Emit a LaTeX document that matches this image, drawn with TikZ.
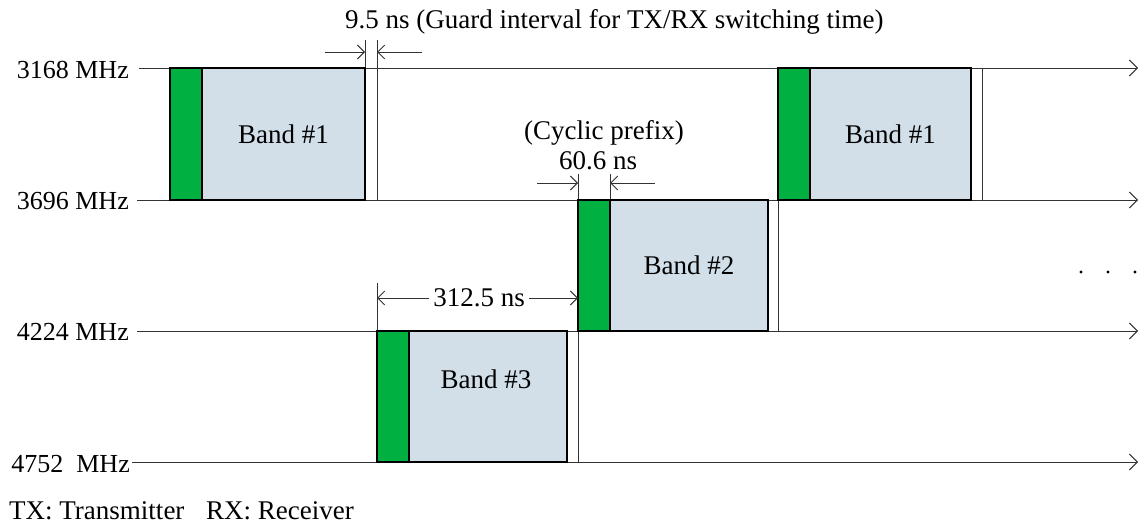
\documentclass[tikz,border=0pt]{standalone}
\usepackage{fontspec}
\setmainfont{Liberation Serif}
\usetikzlibrary{arrows.meta}
\definecolor{cpgreen}{RGB}{0,176,64}
\definecolor{bandblue}{RGB}{210,223,233}
\begin{document}
\begin{tikzpicture}[x=1pt,y=-1pt,
  font=\fontsize{27}{29}\selectfont,
  axis/.style={draw=black!80, line width=1pt, -{Straight Barb[length=8pt,width=16pt]}},
  dim/.style={draw=black!80, line width=0.9pt, -{Straight Barb[length=7pt,width=14pt]}},
  guide/.style={draw=black!80, line width=1pt},
  cpbox/.style={draw=black, line width=1.6pt, fill=cpgreen, inner sep=0pt, outer sep=0pt, anchor=north west, minimum width=32pt},
  bandbox/.style={draw=black, line width=1.6pt, fill=bandblue, inner sep=0pt, outer sep=0pt, anchor=north west},
  lbl/.style={anchor=east, inner sep=0pt, font=\fontsize{26}{28}\selectfont},
  txt/.style={inner sep=0pt}]
\useasboundingbox (0,0) rectangle (1139,525);

% frequency axes
\node[lbl] (l1) at (129,70) {3168 MHz};
\node[lbl] (l2) at (129,201) {3696 MHz};
\node[lbl] (l3) at (129,332) {4224 MHz};
\node[lbl] (l4) at (130,464) {4752\ \ MHz};
\coordinate (s1) at (139,68);  \coordinate (e1) at (1138,68);
\coordinate (s2) at (137,200); \coordinate (e2) at (1138,200);
\coordinate (s3) at (137,331); \coordinate (e3) at (1138,331);
\coordinate (s4) at (132,462); \coordinate (e4) at (1138,462);
\draw[axis] (s1) -- (e1);
\draw[axis] (s2) -- (e2);
\draw[axis] (s3) -- (e3);
\draw[axis] (s4) -- (e4);

% guide lines
\coordinate (ga) at (365,40);  \coordinate (gab) at (365,68);
\coordinate (gb) at (377,40);  \coordinate (gbb) at (377,200);
\coordinate (gc) at (578,174); \coordinate (gcb) at (578,462);
\coordinate (gd) at (610,174); \coordinate (gdb) at (610,200);
\coordinate (ge) at (377,283); \coordinate (geb) at (377,331);
\coordinate (gf) at (778,200); \coordinate (gfb) at (778,331);
\coordinate (gg) at (982,68);  \coordinate (ggb) at (982,200);
\draw[guide] (ga) -- (gab);
\draw[guide] (gb) -- (gbb);
\draw[guide] (gc) -- (gcb);
\draw[guide] (gd) -- (gdb);
\draw[guide] (ge) -- (geb);
\draw[guide] (gf) -- (gfb);
\draw[guide] (gg) -- (ggb);

% bands
\node[cpbox, minimum height=132pt] (g1) at (170,68) {};
\node[bandbox, minimum width=163pt, minimum height=132pt] (b1) at (202,68) {Band \#1};
\node[cpbox, minimum height=131pt] (g2) at (578,200) {};
\node[bandbox, minimum width=158pt, minimum height=131pt] (b2) at (610,200) {Band \#2};
\node[cpbox, minimum height=131pt] (g3) at (377,331) {};
\node[bandbox, minimum width=158pt, minimum height=131pt] (b3) at (409,331) {};
\node[txt] (t3) at (486,379) {Band \#3};
\node[cpbox, minimum height=132pt] (g4) at (778,68) {};
\node[bandbox, minimum width=161pt, minimum height=132pt] (b4) at (810,68) {Band \#1};

% guard interval
\coordinate (a1) at (325,52); \coordinate (a1e) at (365,52);
\coordinate (a2) at (422,52); \coordinate (a2e) at (377,52);
\draw[dim] (a1) -- (a1e);
\draw[dim] (a2) -- (a2e);
\node[txt, anchor=west] (tg) at (345,22) {9.5 ns (Guard interval for TX/RX switching time)};

% cyclic prefix
\coordinate (c1) at (537,183); \coordinate (c1e) at (578,183);
\coordinate (c2) at (655,183); \coordinate (c2e) at (610,183);
\draw[dim] (c1) -- (c1e);
\draw[dim] (c2) -- (c2e);
\node[txt] (tc1) at (604,133) {(Cyclic prefix)};
\node[txt] (tc2) at (598,161) {60.6 ns};

% symbol period
\node[txt, fill=white, inner xsep=4pt] (tp) at (479,298) {312.5 ns};
\coordinate (p1) at (377,298); \coordinate (p2) at (578,298);
\draw[dim] (tp.west) -- (p1);
\draw[dim] (tp.east) -- (p2);

% dots
\foreach \x/\n in {1081/d1,1108/d2,1135/d3}
  \fill (\x,272) circle (1.6pt) coordinate (\n);

% legend
\node[txt, anchor=west] (lg1) at (9,511) {TX: Transmitter};
\node[txt] (lg2) at (280,511) {RX: Receiver};
\end{tikzpicture}
\end{document}
